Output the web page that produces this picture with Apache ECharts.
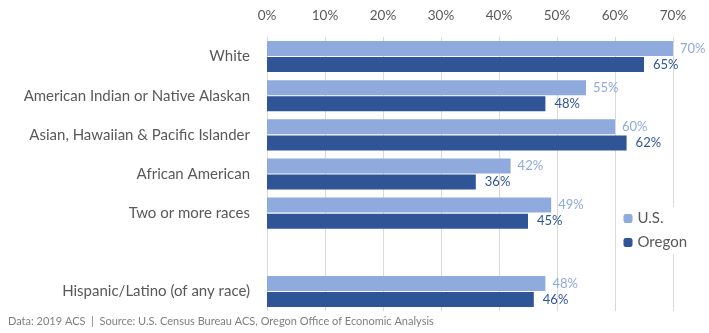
<!DOCTYPE html>
<html>
<head>
<meta charset="utf-8">
<script src="https://cdn.jsdelivr.net/npm/echarts@6/dist/echarts.min.js"></script>
<style>
  html, body { margin: 0; padding: 0; background: #fff; }
  #chart { width: 709px; height: 333px; }
</style>
</head>
<body>
<div id="chart"></div>
<script>
// Share of population by race / ethnicity, U.S. vs Oregon (percent)
const categories = [
  'White',
  'American Indian or Native Alaskan',
  'Asian, Hawaiian & Pacific Islander',
  'African American',
  'Two or more races',
  '',
  'Hispanic/Latino (of any race)'
];
const usValues = [70, 55, 60, 42, 49, null, 48];
const oregonValues = [65, 48, 62, 36, 45, null, 46];
const xTicks = [0, 10, 20, 30, 40, 50, 60, 70];
const sourceNote = 'Data: 2019 ACS  |  Source: U.S. Census Bureau ACS, Oregon Office of Economic Analysis';

const FONT = 'Lato, "Open Sans", sans-serif';
const US_COLOR = '#8faadc';
const OR_COLOR = '#2f5597';

const chart = echarts.init(document.getElementById('chart'), null, { renderer: 'canvas' });

chart.setOption({
  animation: false,
  textStyle: { fontFamily: FONT },
  grid: { left: 267, right: 36, top: 37, bottom: 22, containLabel: false },
  xAxis: {
    type: 'value',
    position: 'top',
    min: xTicks[0],
    max: xTicks[xTicks.length - 1],
    interval: 10,
    axisLine: { show: false },
    axisTick: { show: false },
    axisLabel: {
      formatter: '{value}%',
      color: '#595959',
      fontSize: 13.5,
      fontFamily: FONT,
      margin: 14
    },
    splitLine: { show: true, lineStyle: { color: '#d9d9d9', width: 1 } }
  },
  yAxis: {
    type: 'category',
    inverse: true,
    data: categories,
    axisLine: { show: false },
    axisTick: { show: false },
    axisLabel: { color: '#595959', fontSize: 15, fontFamily: FONT, margin: 17 }
  },
  legend: {
    orient: 'vertical',
    right: 16,
    top: 207,
    itemWidth: 9,
    itemHeight: 9,
    itemGap: 9,
    backgroundColor: '#ffffff',
    padding: [4, 6, 4, 4],
    textStyle: { color: '#595959', fontSize: 15, fontFamily: FONT },
    data: ['U.S.', 'Oregon']
  },
  graphic: [{
    type: 'text',
    left: 8,
    top: 316,
    style: { text: sourceNote, fill: '#7f7f7f', fontSize: 11, fontFamily: FONT }
  }],
  series: [
    {
      name: 'U.S.',
      type: 'bar',
      data: usValues,
      barWidth: 15,
      barGap: '7%',
      itemStyle: { color: US_COLOR },
      label: {
        show: true,
        position: 'right',
        distance: 7,
        formatter: p => p.value == null ? '' : p.value + '%',
        color: US_COLOR,
        fontSize: 13,
        fontFamily: FONT
      }
    },
    {
      name: 'Oregon',
      type: 'bar',
      data: oregonValues,
      barWidth: 15,
      itemStyle: { color: OR_COLOR },
      label: {
        show: true,
        position: 'right',
        distance: 9,
        formatter: p => p.value == null ? '' : p.value + '%',
        color: OR_COLOR,
        fontSize: 13,
        fontFamily: FONT
      }
    }
  ]
});
</script>
</body>
</html>
